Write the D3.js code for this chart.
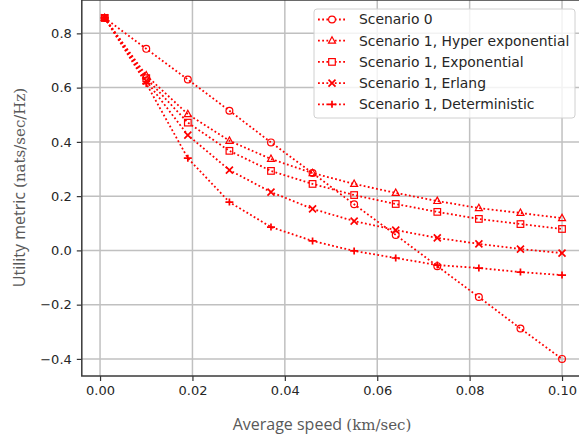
<!DOCTYPE html>
<html lang="en">
<head>
<meta charset="UTF-8">
<title>Utility metric vs average speed</title>
<script src="https://d3js.org/d3.v7.min.js"></script>
<style>
    body { margin: 0; background: #fff; }
    svg { display: block; }
    .tick text { font-family: "DejaVu Sans", sans-serif; font-size: 13px; fill: #262626; }
    .legend text { font-family: "DejaVu Sans", sans-serif; font-size: 13.9px; fill: #262626; }
</style>
</head>
<body>
<div id="chart"></div>
<script>
// data
const speeds = [0.001, 0.010, 0.019, 0.028, 0.037, 0.046, 0.055, 0.064, 0.073, 0.082, 0.091, 0.100];
const scenario0 = [0.857, 0.743, 0.630, 0.515, 0.398, 0.285, 0.170, 0.057, -0.058, -0.172, -0.288, -0.400];
const hyperExp = [0.857, 0.645, 0.502, 0.404, 0.337, 0.285, 0.245, 0.212, 0.182, 0.156, 0.138, 0.119];
const expo = [0.857, 0.635, 0.471, 0.367, 0.293, 0.245, 0.204, 0.171, 0.142, 0.116, 0.097, 0.079];
const erlang = [0.857, 0.625, 0.425, 0.296, 0.215, 0.153, 0.108, 0.075, 0.046, 0.024, 0.005, -0.010];
const determ = [0.857, 0.615, 0.340, 0.178, 0.086, 0.035, -0.002, -0.028, -0.054, -0.065, -0.080, -0.091];

const seriesNames = ["Scenario 0", "Scenario 1, Hyper exponential", "Scenario 1, Exponential", "Scenario 1, Erlang", "Scenario 1, Deterministic"];
const seriesMarkers = ["circle", "triangle", "square", "x", "plus"];
const xTicks = [0, 0.02, 0.04, 0.06, 0.08, 0.10];
const yTicks = [-0.4, -0.2, 0, 0.2, 0.4, 0.6, 0.8];

const width = 579, height = 440;
const red = "#ff0000";

const series = [scenario0, hyperExp, expo, erlang, determ].map((vals, i) => ({
    name: seriesNames[i],
    marker: seriesMarkers[i],
    points: vals.map((v, j) => ({x: speeds[j], y: v}))
}));

const svg = d3.select("#chart").append("svg")
    .attr("width", width)
    .attr("height", height);

// axes limits like matplotlib's 5% margin
const x = d3.scaleLinear().domain([-0.00395, 0.10495]).range([81.8, 584.9]);
const y = d3.scaleLinear().domain([-0.463, 0.923]).range([376, 0]);

const plotLeft = x.range()[0], plotRight = x.range()[1];
const plotTop = y.range()[1], plotBottom = y.range()[0];

// grid
svg.append("g").selectAll("line").data(xTicks).join("line")
    .attr("x1", d => x(d)).attr("x2", d => x(d))
    .attr("y1", plotTop).attr("y2", plotBottom)
    .attr("stroke", "#c0c0c0").attr("stroke-width", 1.5);
svg.append("g").selectAll("line").data(yTicks).join("line")
    .attr("x1", plotLeft).attr("x2", plotRight)
    .attr("y1", d => y(d)).attr("y2", d => y(d))
    .attr("stroke", "#c0c0c0").attr("stroke-width", 1.5);

// axes
const xAxis = svg.append("g")
    .attr("transform", `translate(0,${plotBottom})`)
    .call(d3.axisBottom(x).tickValues(xTicks).tickFormat(d3.format(".2f")).tickSize(5).tickPadding(5));
const yAxis = svg.append("g")
    .attr("transform", `translate(${plotLeft},0)`)
    .call(d3.axisLeft(y).tickValues(yTicks).tickFormat(d3.format(".1f")).tickSize(5).tickPadding(5));
[xAxis, yAxis].forEach(g => {
    g.select(".domain").remove();
    g.selectAll(".tick line").attr("stroke", "#333").attr("stroke-width", 1.2);
});

// frame
svg.append("rect")
    .attr("x", plotLeft).attr("y", plotTop)
    .attr("width", plotRight - plotLeft).attr("height", plotBottom - plotTop)
    .attr("fill", "none").attr("stroke", "#3a3a3a").attr("stroke-width", 1.5);

// marker shapes
function drawMarker(g, type) {
    const s = 3.5;
    if (type === "circle") {
        g.append("circle").attr("r", 3.4);
    } else if (type === "triangle") {
        g.append("path").attr("d", `M0,${-s - 0.4}L${s},${s - 1}L${-s},${s - 1}Z`);
    } else if (type === "square") {
        g.append("rect").attr("x", -3.3).attr("y", -3.3).attr("width", 6.6).attr("height", 6.6);
    } else if (type === "x") {
        g.append("path").attr("d", `M${-s},${-s}L${s},${s}M${-s},${s}L${s},${-s}`).attr("stroke-width", 1.7);
    } else {
        g.append("path").attr("d", `M${-s - 0.5},0L${s + 0.5},0M0,${-s}L0,${s}`).attr("stroke-width", 1.7);
    }
}

const line = d3.line().x(d => x(d.x)).y(d => y(d.y));

const plot = svg.append("g");
series.forEach(s => {
    plot.append("path")
        .datum(s.points)
        .attr("d", line)
        .attr("fill", "none")
        .attr("stroke", red)
        .attr("stroke-width", 1.8)
        .attr("stroke-dasharray", "1.8,2.4");
    plot.append("g").selectAll("g").data(s.points).join("g")
        .attr("transform", d => `translate(${x(d.x)},${y(d.y)})`)
        .attr("fill", "none").attr("stroke", red).attr("stroke-width", 1.2)
        .each(function () { drawMarker(d3.select(this), s.marker); });
});

// legend
const legend = svg.append("g").attr("class", "legend");
legend.append("rect")
    .attr("x", 314).attr("y", 9).attr("width", 261).attr("height", 109).attr("rx", 3)
    .attr("fill", "#fff").attr("fill-opacity", 0.8)
    .attr("stroke", "#d0d0d0").attr("stroke-width", 1);
series.forEach((s, i) => {
    const row = legend.append("g").attr("transform", `translate(0,${19.5 + i * 21.2})`);
    row.append("line")
        .attr("x1", 318).attr("x2", 347)
        .attr("stroke", red).attr("stroke-width", 1.8).attr("stroke-dasharray", "1.8,2.4");
    const m = row.append("g").attr("transform", "translate(332,0)")
        .attr("fill", "#fff").attr("stroke", red).attr("stroke-width", 1.2);
    drawMarker(m, s.marker);
    row.append("text").attr("x", 359).attr("dy", "0.35em").text(s.name);
});

// axis titles
const xTitle = svg.append("text")
    .attr("x", 322).attr("y", 430)
    .attr("text-anchor", "middle")
    .attr("fill", "#595959");
xTitle.append("tspan").attr("font-family", "'Open Sans', sans-serif").attr("font-size", 16).text("Average speed ");
xTitle.append("tspan").attr("font-family", "'DejaVu Serif', serif").attr("font-size", 15).text("(km/sec)");

const yTitle = svg.append("text")
    .attr("transform", "translate(25,187.5) rotate(-90)")
    .attr("text-anchor", "middle")
    .attr("fill", "#595959");
yTitle.append("tspan").attr("font-family", "'Open Sans', sans-serif").attr("font-size", 16).text("Utility metric ");
yTitle.append("tspan").attr("font-family", "'DejaVu Serif', serif").attr("font-size", 15).text("(nats/sec/Hz)");
</script>
</body>
</html>
